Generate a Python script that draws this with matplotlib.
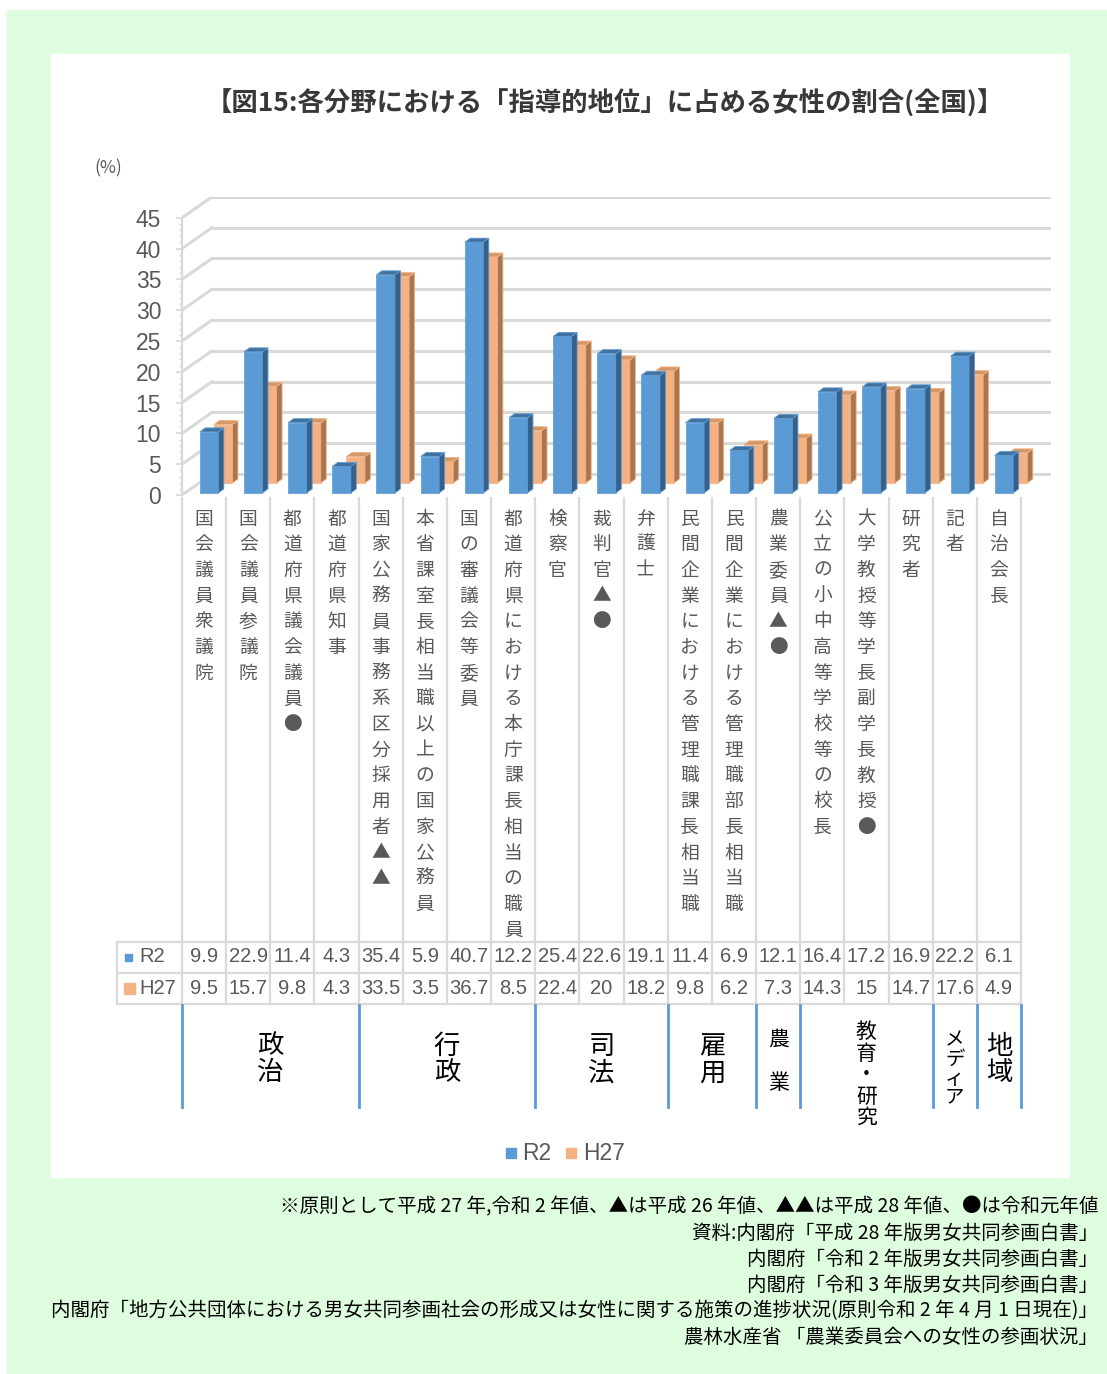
import matplotlib
matplotlib.use('Agg')
import matplotlib.pyplot as plt
from matplotlib.patches import Polygon, Rectangle
import numpy as np

plt.rcParams['font.family'] = ['Noto Sans CJK JP', 'DejaVu Sans']

#=======================================================
# data
categories = ['国会議員衆議院', '国会議員参議院', '都道府県議会議員●', '都道府県知事',
              '国家公務員事務系区分採用者▲▲', '本省課室長相当職以上の国家公務員',
              '国の審議会等委員', '都道府県における本庁課長相当の職員', '検察官', '裁判官▲●',
              '弁護士', '民間企業における管理職課長相当職', '民間企業における管理職部長相当職',
              '農業委員▲●', '公立の小中高等学校等の校長', '大学教授等学長副学長教授●',
              '研究者', '記者', '自治会長']
r2 = [9.9, 22.9, 11.4, 4.3, 35.4, 5.9, 40.7, 12.2, 25.4, 22.6, 19.1, 11.4, 6.9,
      12.1, 16.4, 17.2, 16.9, 22.2, 6.1]
h27 = [9.5, 15.7, 9.8, 4.3, 33.5, 3.5, 36.7, 8.5, 22.4, 20, 18.2, 9.8, 6.2,
       7.3, 14.3, 15, 14.7, 17.6, 4.9]
series_names = ['R2', 'H27']
groups = ['政治', '行政', '司法', '雇用', '農業', '教育・研究', 'メディア', '地域']
group_sizes = [4, 4, 3, 2, 1, 3, 1, 1]
yticks = list(range(0, 50, 5))

title = '【図15:各分野における「指導的地位」に占める女性の割合(全国)】'
notes = ['※原則として平成 27 年,令和 2 年値、▲は平成 26 年値、▲▲は平成 28 年値、●は令和元年値',
         '資料:内閣府「平成 28 年版男女共同参画白書」',
         '内閣府「令和 2 年版男女共同参画白書」',
         '内閣府「令和 3 年版男女共同参画白書」',
         '内閣府「地方公共団体における男女共同参画社会の形成又は女性に関する施策の進捗状況(原則令和 2 年 4 月 1 日現在)」',
         '農林水産省 「農業委員会への女性の参画状況」']

#=======================================================
# layout (pixels)
W, H = 1107, 1374
X0, CW = 182, 44.16       # left of category axis, width of one category
Y0, PU = 495, 6.16        # zero line (front), pixels per %
BDX, BDY = 30, 21         # depth of the 3d box
GRAY = '#595959'
LINE = '#D9D9D9'
front = ['#5B9BD5', '#F4B183']
side = ['#375F87', '#A8764F']
top = ['#41719C', '#D39868']
depth = [0.1, 0.57]

ncat = len(categories)
ymax = yticks[-1]

fig = plt.figure(figsize=(W / 100, H / 100), dpi=100)

ov = fig.add_axes([0, 0, 1, 1], zorder=0)
ov.set_xlim(0, W)
ov.set_ylim(H, 0)
ov.axis('off')
ov.add_patch(Rectangle((7, 10), W - 7, H - 10, color='#DEFDDE', zorder=0))
ov.add_patch(Rectangle((51, 54), 1018, 1123, color='white', zorder=0))

#=======================================================
# 3d column chart
bx, by = BDX / CW, BDY / PU
axw, axh = (ncat + bx) * CW, (ymax + by) * PU
ax = fig.add_axes([X0 / W, (H - Y0) / H, axw / W, axh / H], zorder=1)
ax.set_facecolor('none')
ax.set_xlim(0, ncat + bx)
ax.set_ylim(0, ymax + by)

for v in yticks:
    ax.plot([bx, ncat + bx], [v + by, v + by], color=LINE, lw=2.2, zorder=1, solid_capstyle='round')
    ax.plot([0, bx], [v, v + by], color=LINE, lw=2.2, zorder=1, solid_capstyle='round')

fw = 18.5 / CW
sx, sy = 5.5 / CW, 4 / PU
x = np.arange(ncat) + 0.5 + 2 / CW
for k, vals in [(1, h27), (0, r2)]:
    dx, dy = depth[k] * bx, depth[k] * by
    xc = x + dx
    z = 3 - k
    ax.bar(xc, vals, width=fw, bottom=dy, color=front[k], zorder=z, edgecolor=front[k], lw=0.5)
    for xi, v in zip(xc, vals):
        xl, xr = xi - fw / 2, xi + fw / 2
        ax.add_patch(Polygon([(xr, dy), (xr + sx, dy + sy), (xr + sx, v + dy + sy), (xr, v + dy)],
                             closed=True, fc=side[k], ec=front[k], lw=0.6, zorder=z))
        ax.add_patch(Polygon([(xl, v + dy), (xl + sx, v + dy + sy), (xr + sx, v + dy + sy), (xr, v + dy)],
                             closed=True, fc=top[k], ec=front[k], lw=0.6, zorder=z))

for s in ['top', 'right', 'bottom']:
    ax.spines[s].set_visible(False)
ax.spines['left'].set_bounds(0, ymax)
ax.spines['left'].set_color(LINE)
ax.spines['left'].set_linewidth(1.6)
ax.set_xticks([])
ax.set_yticks(yticks)
ax.set_yticks(np.arange(0, ymax + 1, 1), minor=True)
ax.tick_params(axis='y', which='major', length=4, width=1.2, color=LINE, pad=11,
               labelsize=16.5, labelcolor=GRAY)
ax.tick_params(axis='y', which='minor', length=2.5, width=1, color=LINE)
for t in ax.get_yticklabels():
    t.set_fontfamily('Liberation Sans')

ov.text(108, 168, '(%)', fontsize=12.5, color=GRAY, ha='center', va='center')

#=======================================================
# category labels (vertical) + data table
for b in range(ncat + 1):
    xb = X0 + b * CW
    ov.plot([xb, xb], [498, 1004], color=LINE, lw=1.6, zorder=1)
for yl in [942, 973, 1004]:
    ov.plot([117, X0 + ncat * CW], [yl, yl], color=LINE, lw=1.6, zorder=1)
ov.plot([117, 117], [942, 1004], color=LINE, lw=1.6, zorder=1)

for i, lab in enumerate(categories):
    xc = X0 + (i + 0.5) * CW
    for j, ch in enumerate(lab):
        ov.text(xc, 519 + j * 25.7, ch, fontsize=13.5, color=GRAY, ha='center', va='center')
    for yr, vals in [(957, r2), (988, h27)]:
        ov.text(xc, yr, f'{vals[i]:g}', fontsize=14.5, family='Liberation Sans', color=GRAY,
                ha='center', va='center')

ov.add_patch(Rectangle((125, 953.5), 7, 7, color=front[0], zorder=2))
ov.add_patch(Rectangle((124, 982.5), 11, 11, color=front[1], zorder=2))
for yr, name in [(957, series_names[0]), (988, series_names[1])]:
    ov.text(139, yr, name, fontsize=14.5, family='Liberation Sans', color=GRAY, ha='left', va='center')

#=======================================================
# groups
gstyle = {'政治': (19, 27, [1046, 1073]), '行政': (19, 27, [1046, 1073]),
          '司法': (19, 27, [1046, 1073]), '雇用': (19, 27, [1046, 1073]),
          '農業': (15, 43, [1040, 1083]), '教育・研究': (15, 21.5, [1032]),
          'メディア': (14, 19, [1040]), '地域': (19, 27, [1046, 1073])}
edges = np.concatenate([[0], np.cumsum(group_sizes)])
for g, a, b in zip(groups, edges[:-1], edges[1:]):
    ov.plot([X0 + a * CW] * 2, [1005, 1107], color=front[0], lw=2, zorder=2)
    fs, pitch, ys = gstyle[g]
    xc = X0 + (a + b) / 2 * CW
    for j, ch in enumerate(g):
        ov.text(xc, ys[0] + j * pitch, ch, fontsize=fs, color='black', ha='center', va='center')
ov.plot([X0 + ncat * CW] * 2, [1005, 1107], color=front[0], lw=2, zorder=2)

#=======================================================
# legend, title, notes
ov.add_patch(Rectangle((506, 1148), 10, 10, color=front[0]))
ov.text(522, 1154, series_names[0], fontsize=16.5, family='Liberation Sans', color=GRAY, va='center')
ov.add_patch(Rectangle((566, 1148), 10, 10, color=front[1]))
ov.text(583, 1154, series_names[1], fontsize=16.5, family='Liberation Sans', color=GRAY, va='center')

ov.text(605, 104, title, fontsize=19, fontweight='bold', color='#383838', ha='center', va='center')

for j, line in enumerate(notes):
    ov.text(1098, 1207 + j * 26, line, fontsize=14, color='black', ha='right', va='center')

fig.savefig('out.png', dpi=100)
